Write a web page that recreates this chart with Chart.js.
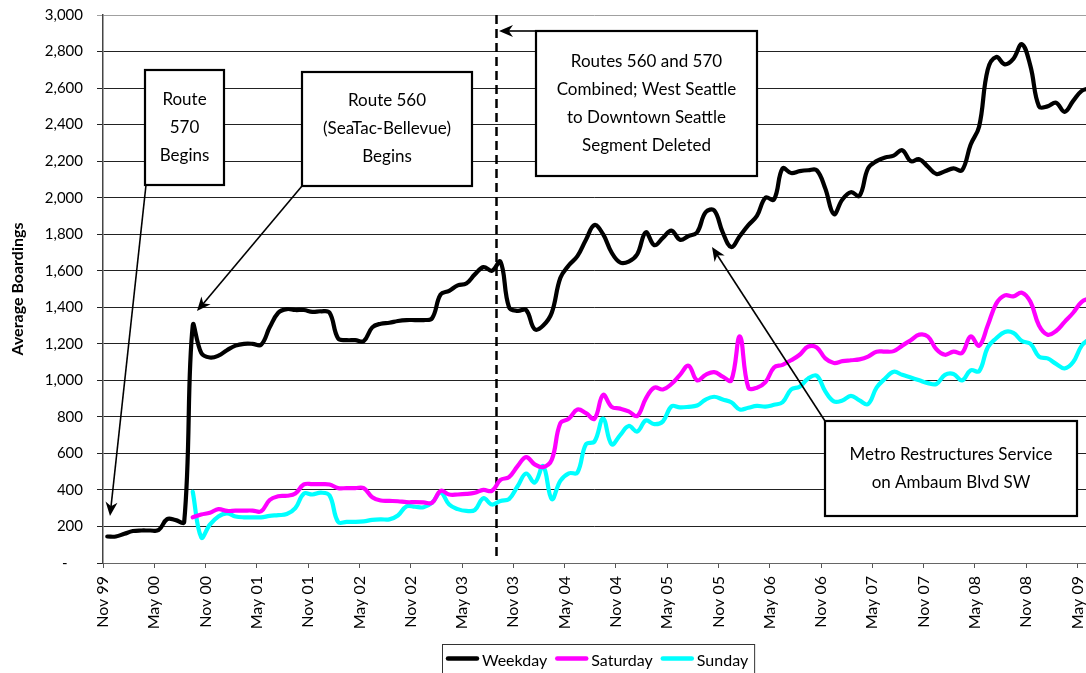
<!DOCTYPE html>
<html>
<head>
<meta charset="utf-8">
<script src="https://cdn.jsdelivr.net/npm/chart.js@4/dist/chart.umd.min.js"></script>
<style>
html,body{margin:0;padding:0;background:#fff;overflow:hidden}
#wrap{position:relative;width:1086px;height:673px}
</style>
</head>
<body>
<div id="wrap"><canvas id="c" width="1086" height="673"></canvas></div>
<script>
// ---- Data (monthly, index 0 = Nov 1999) ----
const xTickLabels = ['Nov 99','May 00','Nov 00','May 01','Nov 01','May 02','Nov 02','May 03','Nov 03','May 04',
  'Nov 04','May 05','Nov 05','May 06','Nov 06','May 07','Nov 07','May 08','Nov 08','May 09'];

const seriesNames = ['Weekday','Saturday','Sunday'];
const seriesColors = ['#000000','#FF00FF','#00FFFF'];

const weekday = [
  145,145,160,175,178,178,180,240,235,225,
  1300,1150,1125,1135,1165,1190,1200,1200,1195,1290,
  1370,1390,1385,1385,1375,1378,1370,1230,1220,1220,
  1215,1290,1310,1315,1325,1330,1330,1330,1340,1470,
  1490,1520,1530,1580,1620,1600,1650,1400,1380,1385,
  1280,1300,1370,1560,1630,1680,1770,1850,1800,1700,
  1645,1650,1690,1810,1740,1780,1820,1770,1790,1810,
  1920,1930,1810,1730,1790,1850,1900,2000,1990,2160,
  2135,2145,2150,2150,2050,1910,1990,2030,2010,2160,
  2200,2220,2230,2260,2200,2210,2170,2130,2145,2160,
  2150,2290,2390,2700,2770,2730,2760,2840,2720,2500,
  2500,2520,2470,2530,2585,2600
];

const saturday = [
  null,null,null,null,null,null,null,null,null,null,
  250,265,275,295,285,287,287,287,283,345,
  365,368,380,430,432,432,430,410,410,410,
  410,360,342,340,338,333,333,332,330,395,
  375,375,378,385,400,395,455,470,530,580,
  540,525,565,765,790,840,820,790,920,855,
  845,830,805,900,960,950,980,1030,1080,1000,
  1030,1045,1020,1000,1240,960,960,990,1070,1085,
  1110,1140,1185,1180,1120,1095,1105,1110,1115,1130,
  1157,1157,1160,1190,1220,1250,1240,1170,1140,1157,
  1150,1240,1190,1300,1420,1465,1460,1480,1430,1300,
  1250,1270,1320,1370,1430,1450
];

const sunday = [
  null,null,null,null,null,null,null,null,null,null,
  390,140,210,255,272,255,250,250,250,258,
  262,268,300,380,375,385,370,225,225,225,
  228,236,239,239,260,310,308,305,330,385,
  320,295,285,290,355,320,340,350,420,490,
  440,530,350,450,491,495,650,665,790,650,
  700,750,720,780,760,775,858,852,855,862,
  895,910,895,880,840,850,860,856,866,880,
  950,965,1010,1025,940,885,890,915,890,870,
  960,1010,1047,1030,1015,1000,985,980,1030,1035,
  1000,1055,1050,1180,1230,1265,1260,1215,1200,1130,
  1120,1090,1065,1100,1190,1230
];

const yMin = 0, yMax = 3000, yStep = 200;
const serviceChangeMonth = 45.5; // boundary Aug/Sep 2003 (dashed line)

// Annotation layout (pixels)
const notes = [
  {lines:['Route','570','Begins'], box:[145,70,224,185], from:[146,185], to:[110,516]},
  {lines:['Route 560','(SeaTac-Bellevue)','Begins'], box:[302,72,472,186], from:[302,186], to:[197,311]},
  {lines:['Routes 560 and 570','Combined; West Seattle','to Downtown Seattle','Segment Deleted'], box:[536,31,757,176], from:[536,31], to:[499,31]},
  {lines:['Metro Restructures Service','on Ambaum Blvd SW'], box:[825,421,1077,516], from:[825,421], to:[712,247]}
];

const FONT = 'Lato, "Open Sans", sans-serif';
const toPts = arr => arr.map((v,i) => ({x:i, y:v}));
const seriesData = [weekday, saturday, sunday];

function arrowHead(ctx, from, to, len, half) {
  const ang = Math.atan2(to[1]-from[1], to[0]-from[0]);
  const c = Math.cos(ang), s = Math.sin(ang);
  const bx = to[0]-len*c, by = to[1]-len*s;
  const px = -s, py = c;
  const nx = to[0]-len*0.7*c, ny = to[1]-len*0.7*s;
  ctx.beginPath();
  ctx.moveTo(to[0], to[1]);
  ctx.lineTo(bx+half*px, by+half*py);
  ctx.lineTo(nx, ny);
  ctx.lineTo(bx-half*px, by-half*py);
  ctx.closePath();
  ctx.fill();
}

const overlay = {
  id:'overlay',
  beforeDatasetsDraw(chart){
    const ctx = chart.ctx, xs = chart.scales.x, a = chart.chartArea;
    const x = Math.round(xs.getPixelForValue(serviceChangeMonth)) + 0.5;
    ctx.save();
    ctx.strokeStyle = '#000'; ctx.lineWidth = 2.5; ctx.setLineDash([9,5]);
    ctx.beginPath(); ctx.moveTo(x, a.top); ctx.lineTo(x, a.bottom-5); ctx.stroke();
    ctx.restore();
  },
  afterDatasetsDraw(chart){
    const ctx = chart.ctx;
    ctx.save();
    notes.forEach(n => {
      ctx.strokeStyle = '#000'; ctx.fillStyle = '#000'; ctx.lineWidth = 1.6;
      const ang = Math.atan2(n.to[1]-n.from[1], n.to[0]-n.from[0]);
      ctx.beginPath(); ctx.moveTo(n.from[0], n.from[1]);
      ctx.lineTo(n.to[0]-6*Math.cos(ang), n.to[1]-6*Math.sin(ang)); ctx.stroke();
      arrowHead(ctx, n.from, n.to, 14, 6);
      const [l,t,r,b] = n.box;
      ctx.fillStyle = '#fff'; ctx.fillRect(l,t,r-l,b-t);
      ctx.lineWidth = 2.2; ctx.strokeStyle = '#000'; ctx.strokeRect(l,t,r-l,b-t);
      ctx.fillStyle = '#000'; ctx.font = '17px ' + FONT;
      ctx.textAlign = 'center'; ctx.textBaseline = 'middle';
      const cy = (t+b)/2, lh = 28, cx = (l+r)/2;
      n.lines.forEach((s,i) => ctx.fillText(s, cx, cy + (i-(n.lines.length-1)/2)*lh));
    });
    ctx.restore();
  },
  afterDraw(chart){
    const ctx = chart.ctx;
    ctx.save();
    ctx.font = '16px ' + FONT;
    const sample = 33, gapT = 3, gapI = 8;
    const items = chart.data.datasets.map(d => ({label:d.label, color:d.borderColor, w:ctx.measureText(d.label).width}));
    const total = items.reduce((s,it)=>s+sample+gapT+it.w,0) + gapI*(items.length-1);
    const cx = 597.5;
    let x = Math.round(cx - total/2);
    const boxL = x-4, boxR = x+total+6;
    ctx.fillStyle='#fff'; ctx.fillRect(boxL,644,boxR-boxL,40);
    ctx.strokeStyle = '#333'; ctx.lineWidth = 1; ctx.strokeRect(boxL+0.5,644.5,boxR-boxL,40);
    items.forEach(it => {
      ctx.strokeStyle = it.color; ctx.lineWidth = 4.5; ctx.lineCap='round';
      ctx.beginPath(); ctx.moveTo(x+2,658.5); ctx.lineTo(x+sample-2,658.5); ctx.stroke();
      ctx.fillStyle = '#000'; ctx.textAlign='left'; ctx.textBaseline='middle';
      ctx.fillText(it.label, x+sample+gapT, 661);
      x += sample+gapT+it.w+gapI;
    });
    ctx.restore();
  }
};

new Chart(document.getElementById('c'), {
  type:'line',
  data:{
    datasets: seriesNames.map((name,k) => ({
      label:name,
      data:toPts(seriesData[k]),
      borderColor:seriesColors[k],
      backgroundColor:seriesColors[k],
      borderWidth:4.2,
      pointRadius:0,
      tension:0.4,
      borderJoinStyle:'round',
      borderCapStyle:'round',
      fill:false,
      spanGaps:false
    }))
  },
  options:{
    responsive:false,
    animation:false,
    events:[],
    layout:{padding:{top:15,right:0,bottom:0,left:0}},
    plugins:{legend:{display:false}, tooltip:{enabled:false}},
    scales:{
      x:{
        type:'linear', min:-0.5, max:114.5,
        afterBuildTicks: s => { s.ticks = xTickLabels.map((_,k)=>({value:k*6-0.5})); },
        afterFit: s => { s.height = 110; s.paddingLeft = 0; s.paddingRight = 0; },
        ticks:{autoSkip:false, maxRotation:90, minRotation:90, padding:8, color:'#000',
          font:{family:FONT, size:16}, callback:(v,i)=>xTickLabels[i]},
        grid:{drawOnChartArea:false, drawTicks:true, tickLength:5, color:'#555', lineWidth:1},
        border:{display:true, color:'#666', width:1}
      },
      y:{
        min:yMin, max:yMax,
        afterFit: s => { s.width = 103; s.paddingTop = 0; s.paddingBottom = 0; },
        ticks:{stepSize:yStep, padding:14, color:'#000', font:{family:FONT, size:15},
          callback: v => v===0 ? '-    ' : v.toLocaleString('en-US')},
        grid:{color: c => (c.tick && c.tick.value===yMax) ? '#a0a0a0' : '#222', lineWidth:1, tickLength:6, drawTicks:true},
        border:{display:true, color:'#444', width:1.5},
        title:{display:true, text:'Average Boardings', color:'#000',
          font:{family:FONT, size:16, weight:'bold'}, padding:{top:8,bottom:0}}
      }
    }
  },
  plugins:[overlay]
});
</script>
</body>
</html>
